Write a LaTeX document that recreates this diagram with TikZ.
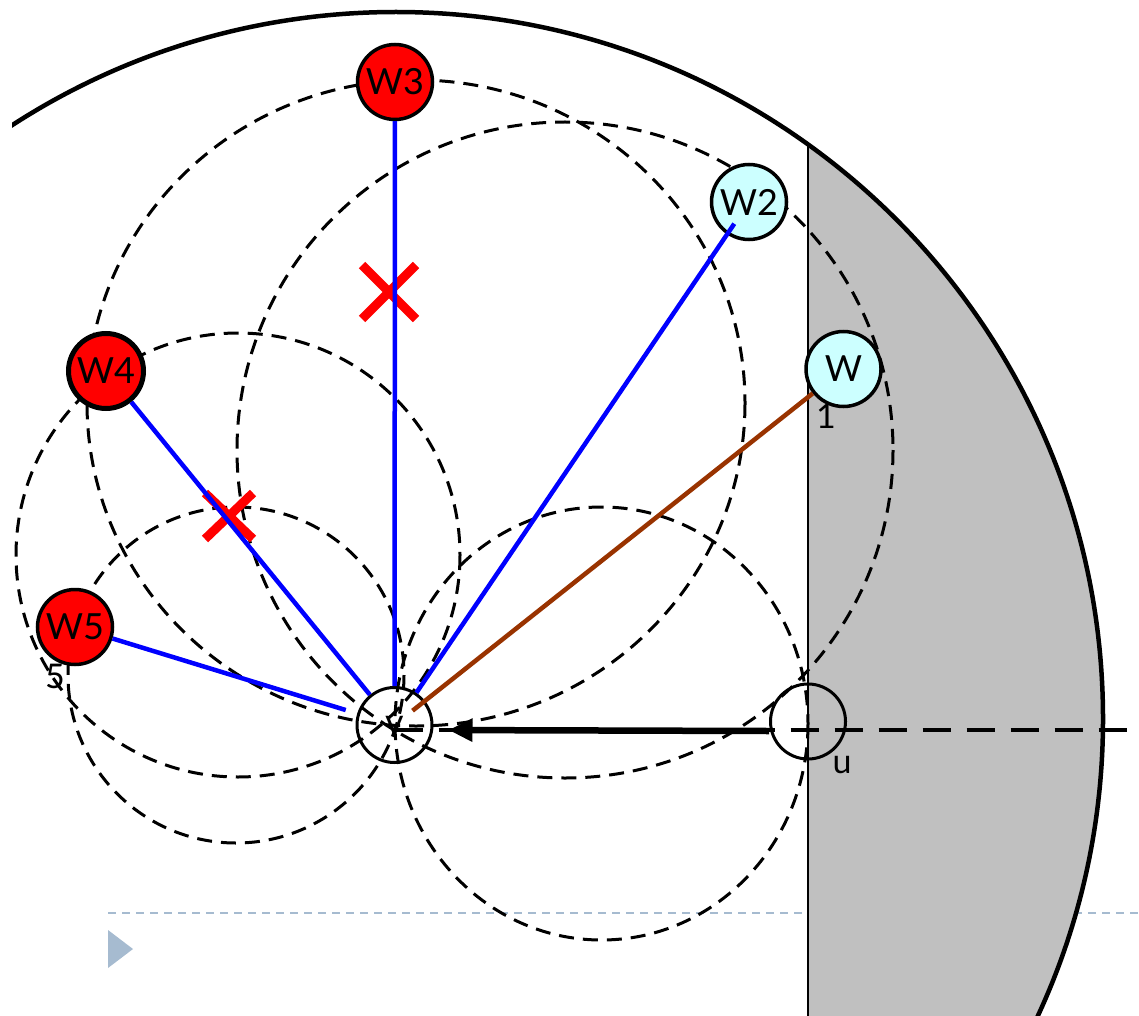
\documentclass[tikz,border=0pt]{standalone}
\usepackage{fontspec}
\setmainfont{Lato}
\usetikzlibrary{arrows.meta,calc}
\definecolor{wred}{RGB}{255,0,0}
\definecolor{wcyan}{RGB}{204,255,255}
\definecolor{shadegray}{RGB}{192,192,192}
\definecolor{brownline}{RGB}{153,51,0}
\definecolor{slideblue}{RGB}{166,187,208}
\begin{document}
\begin{tikzpicture}[x=1pt,y=-1pt,
  vertex/.style={circle,draw=black,line width=3.5pt,minimum size=75pt,inner sep=0pt,font=\fontsize{36}{40}\selectfont},
  redv/.style={vertex,fill=wred},
  cyanv/.style={vertex,fill=wcyan},
  plainv/.style={vertex,line width=3pt},
  oval/.style={draw=black,line width=3pt,dash pattern=on 15pt off 9pt},
  edgeblue/.style={draw=blue,line width=4.5pt},
  edgebrown/.style={draw=brownline,line width=4.5pt},
  crossmark/.style={draw=red,line width=9pt},
  lbl/.style={font=\fontsize{34}{38}\selectfont,inner sep=0pt}
]
\useasboundingbox (0,0) rectangle (1139,1016);
\clip (0,0) rectangle (1139,1016);
\coordinate (C) at (396,719);
\coordinate (hr) at (1139,730);
% slide decoration
\draw[draw=slideblue,line width=1.5pt,dash pattern=on 8pt off 6pt] (108,913) -- (1139,913);
\fill[slideblue] (108,930) -- (133,949) -- (108,968) -- cycle;
% gray region
\begin{scope}
 \clip (C) circle[radius=707];
 \fill[shadegray] (808,0) rectangle (1139,1016);
 \draw[line width=1.5pt] (808,0) -- (808,1016);
\end{scope}
\begin{scope}
 \clip (12,0) rectangle (1139,1016);
 \draw[line width=4.5pt] (C) circle[radius=707];
\end{scope}
% dashed ovals
\draw[oval] (601.5,723.5) ellipse[x radius=206.5,y radius=216.5];
\draw[oval] (236,675) circle[radius=168];
\draw[oval] (238,555) circle[radius=222];
\draw[oval] (416,403) ellipse[x radius=329,y radius=323];
\draw[oval] (565,450) circle[radius=328];
% nodes
\node[redv] (w3) at (395,82) {W3};
\node[redv,line width=5pt] (w4) at (106,371) {W4};
\node[redv] (w5) at (75,627) {W5};
\node[cyanv] (w2) at (749,202) {W2};
\node[cyanv] (w1) at (843.5,369) {W};
\node[plainv] (v) at (394.5,725) {v};
\node[plainv] (u) at (808,721.5) {};
% horizontal dashed line and arrow
\draw[line width=4.5pt,dash pattern=on 28pt off 16pt] ([yshift=-5pt]v.center) -- (hr);
\draw[line width=6.5pt,-{Triangle[length=24pt,width=22pt]},shorten >=15pt] ([yshift=-9.5pt]u.west) -- ([yshift=-5pt]v.east);
% crosses
\draw[crossmark] (362,265) -- (416,319) (362,319) -- (416,265);
\draw[crossmark] (205,493) -- (253,539) (205,539) -- (253,493);
% edges
\draw[edgeblue] (w3) -- (v);
\draw[edgeblue] (w4) -- (v);
\draw[edgeblue,shorten >=12pt] (w5) -- (v);
\draw[edgeblue,shorten <=-13pt] (w2) -- (v);
\draw[edgebrown,shorten >=-16pt] (w1) -- (v);
% labels
\node[lbl] (ul) at (842,765) {u};
\node[lbl] (one) at (826,416) {1};
\node[lbl] (five) at (55,676) {5};
\end{tikzpicture}
\end{document}
